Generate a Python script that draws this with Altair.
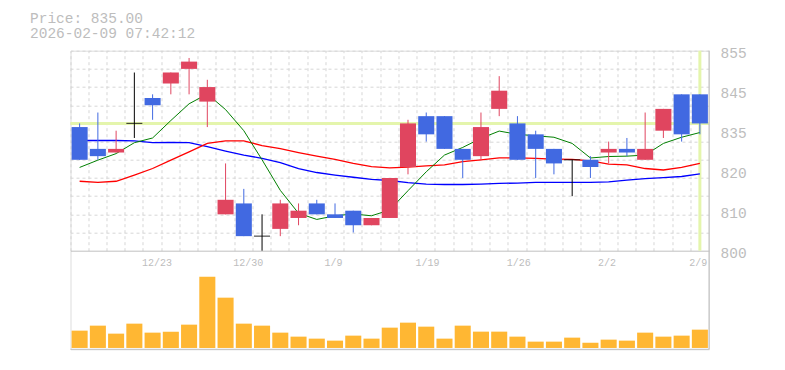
import altair as alt
import pandas as pd

# ---------------- data ----------------
dates = ["12/17", "12/18", "12/19", "12/22", "12/23", "12/24", "12/25", "12/26", "12/29", "12/30",
         "1/5", "1/6", "1/7", "1/8", "1/9", "1/13", "1/14", "1/15", "1/16", "1/19",
         "1/20", "1/21", "1/22", "1/23", "1/26", "1/27", "1/28", "1/29", "1/30", "2/2",
         "2/3", "2/4", "2/5", "2/6", "2/9"]
opens = [834, 828, 827, 835, 842, 846, 850, 841, 810, 813,
         804, 806, 809, 813, 810, 811, 807, 809, 823, 837,
         837, 828, 826, 839, 835, 832, 828, 825, 825, 827,
         828, 825, 833, 843, 843]
highs = [835, 838, 833, 849, 843, 849, 853, 847, 824, 817,
         810, 814, 813, 814, 813, 811, 809, 820, 836, 838,
         837, 828, 838, 848, 837, 833, 828, 825, 826, 830,
         831, 838, 839, 843, 843]
lows = [825, 825, 827, 831, 836, 843, 843, 834, 810, 804,
        800, 804, 807, 810, 809, 805, 807, 809, 821, 830,
        828, 820, 825, 837, 825, 820, 821, 815, 820, 824,
        826, 825, 831, 830, 832]
closes = [825, 826, 828, 835, 840, 849, 852, 845, 814, 804,
          804, 813, 811, 810, 809, 807, 809, 820, 835, 832,
          828, 825, 834, 844, 825, 828, 824, 825, 823, 828,
          827, 828, 839, 832, 835]
volumes = [52, 67, 43, 73, 46, 49, 70, 214, 151, 73,
           67, 46, 34, 28, 22, 37, 28, 61, 76, 64,
           28, 67, 49, 49, 34, 19, 19, 31, 16, 25,
           22, 46, 34, 37, 55]
ma_short = [822.9, 824.9, 826.7, 829.7, 831.0, 835.8, 840.4, 843.1, 838.8, 833.0,
            825.0, 816.6, 810.3, 808.6, 809.6, 810.1, 809.6, 811.2, 816.5, 821.7,
            826.3, 828.4, 830.9, 832.9, 832.0, 831.6, 831.2, 829.5, 825.5, 825.9,
            826.0, 826.3, 829.5, 831.2, 832.5]
ma_mid = [819.1, 818.8, 819.1, 820.8, 822.6, 824.9, 827.2, 829.5, 830.2, 830.2,
          828.9, 828.1, 827.0, 826.0, 825.1, 824.0, 823.1, 822.8, 823.0, 823.3,
          823.6, 824.5, 825.0, 825.5, 825.5, 825.4, 825.2, 825.1, 824.7, 823.8,
          823.6, 822.6, 822.2, 822.9, 824.0]
ma_long = [830.3, 830.3, 830.3, 830.2, 829.7, 829.8, 829.7, 828.6, 827.4, 826.3,
           825.4, 824.2, 822.6, 821.5, 820.8, 820.2, 819.6, 819.3, 818.7, 818.3,
           818.2, 818.2, 818.3, 818.5, 818.6, 818.8, 818.8, 818.8, 818.8, 818.9,
           819.4, 819.8, 820.1, 820.4, 821.1]
current_price = 835.0
timestamp = "2026-02-09 07:42:12"

x_label_dates = ["12/23", "12/30", "1/9", "1/19", "1/26", "2/2", "2/9"]
y_grid_values = [800, 805, 810, 815, 820, 825, 830, 835, 840, 845, 850, 855]
y_label_values = [855, 844, 833, 822, 811, 800]
y_label_texts = ["855", "845", "835", "820", "810", "800"]

# ---------------- style ----------------
PLOT_W = 638.5
PRICE_H = 200
PLOT_H = 298.6
BAND = PLOT_W / len(dates)
MONO = "Liberation Mono"
TXT = "#bdbdbd"
GRID = "#d6d6d6"
BORDER = "#c0c0c0"
UP = "#e0455f"
DOWN = "#4169e1"
VOL = "#ffb733"
CUR = "#e4f5ac"

df = pd.DataFrame({
    "date": dates, "open": opens, "high": highs, "low": lows, "close": closes,
    "volume": volumes, "ma_short": ma_short, "ma_mid": ma_mid, "ma_long": ma_long,
})
df["dir"] = ["up" if c > o else ("down" if c < o else "doji") for o, c in zip(opens, closes)]

x_label_expr = "indexof([" + ",".join(f"'{d}'" for d in x_label_dates) + "], datum.value) >= 0 ? datum.value : ''"
x_axis = alt.Axis(
    orient="top", offset=-215.3, bandPosition=0, grid=True, gridDash=[3, 3], gridColor=GRID,
    ticks=False, domain=False, labelAngle=0, labelAlign="left", labelBaseline="alphabetic", labelPadding=0,
    labelOffset=-1.5 - BAND / 2, labelFont=MONO, labelFontSize=10, labelColor=TXT, labelExpr=x_label_expr,
    labelOverlap=False, labelFlush=False, labelBound=False, title=None,
)
x_scale = alt.Scale(type="band", paddingInner=0, paddingOuter=0)


def X():
    return alt.X("date:N", sort=dates, scale=x_scale, axis=x_axis)


y_ticks = sorted(set(y_grid_values + y_label_values))
y_label_expr = " : ".join(f"datum.value == {v} ? '{t}'" for v, t in zip(y_label_values, y_label_texts)) + " : ''"
y_axis = alt.Axis(
    orient="right", values=y_ticks, labelExpr=y_label_expr, grid=True,
    gridDash={"condition": {"test": "datum.value == 800", "value": []}, "value": [3, 3]},
    gridColor={"condition": {"test": "datum.value == 800", "value": BORDER}, "value": GRID},
    gridOpacity={"condition": {"test": "datum.value % 5 != 0", "value": 0}, "value": 1},
    ticks=False, domain=False, labelFont=MONO, labelFontSize=14.5, labelColor=TXT,
    labelPadding=11, labelBaseline="middle", labelOffset=3, title=None,
)
price_scale = alt.Scale(domain=[800, 855], range=[PRICE_H, 0], nice=False, zero=False)


def Y(field):
    return alt.Y(f"{field}:Q", scale=price_scale, axis=y_axis)


color = alt.Color("dir:N", scale=alt.Scale(domain=["up", "down", "doji"], range=[UP, DOWN, "#000000"]), legend=None)

base = alt.Chart(df)
cur_h = alt.Chart(pd.DataFrame({"price": [current_price]})).mark_rule(color=CUR, strokeWidth=3).encode(y=Y("price"))
cur_v = alt.Chart(df.tail(1)).mark_rule(color=CUR, strokeWidth=3).encode(
    x=X(), y=alt.value(0), y2=alt.value(PRICE_H))
ma_layers = [
    base.mark_line(color=c, strokeWidth=w).encode(x=X(), y=Y(f))
    for f, c, w in [("ma_long", "#0000ff", 1.3), ("ma_mid", "#ff0000", 1.3), ("ma_short", "#008000", 1)]
]
wicks = base.mark_rule(strokeWidth=1).encode(x=X(), y=Y("high"), y2="low:Q", color=color)
bodies = base.transform_filter("datum.dir != 'doji'").mark_bar(width={"band": 0.88}).encode(
    x=X(), y=Y("open"), y2="close:Q", color=color)
doji = base.transform_filter("datum.dir == 'doji'").mark_tick(thickness=1.2, size=16, color="#000000").encode(
    x=X(), y=Y("open"))

price = alt.layer(cur_h, cur_v, *ma_layers, wicks, bodies, doji)

vol = base.mark_bar(width={"band": 0.88}, color=VOL).encode(
    x=X(),
    y=alt.Y("volume:Q", scale=alt.Scale(domain=[-4, 292], range=[PLOT_H, PRICE_H], nice=False, zero=False), axis=None),
    y2=alt.datum(0),
)

one = pd.DataFrame({"a": [0]})
right_border = alt.Chart(one).mark_rule(color=BORDER, strokeWidth=1).encode(
    x=alt.value(PLOT_W), y=alt.value(0), y2=alt.value(PLOT_H))
bottom_border = alt.Chart(one).mark_rule(color=BORDER, strokeWidth=1).encode(
    x=alt.value(0), x2=alt.value(PLOT_W), y=alt.value(PLOT_H))

chart = alt.layer(price, vol, right_border, bottom_border).resolve_scale(y="independent").properties(
    width=PLOT_W, height=PLOT_H,
    title=alt.TitleParams(
        text=[f"Price: {current_price:.2f}", timestamp], anchor="start", frame="group", dx=-40.5,
        font=MONO, fontSize=14.5, fontWeight="normal", color=TXT, lineHeight=15, baseline="bottom", offset=-9.5,
    ),
    autosize=alt.AutoSizeParams(type="none"),
    padding={"left": 62.5, "top": 42.7, "right": 60, "bottom": 10},
).configure_view(stroke=None).configure(background="white")

chart.save("out.html", embed_options={"renderer": "svg", "actions": False})
